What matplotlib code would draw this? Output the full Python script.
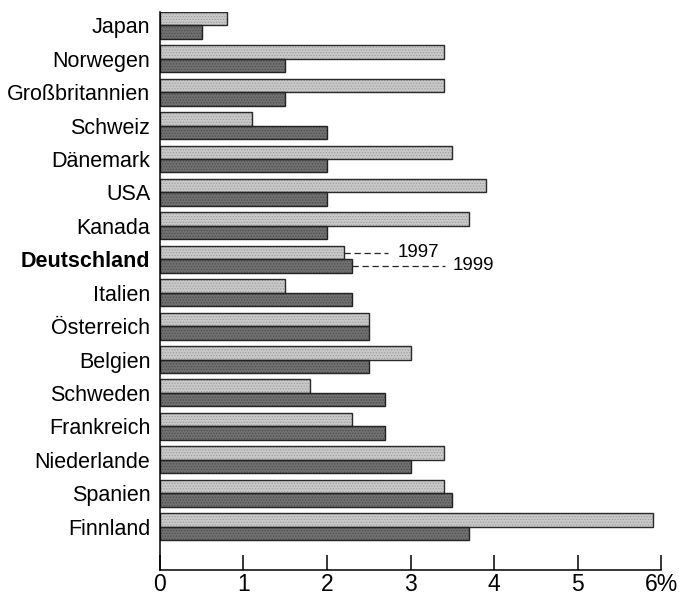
import matplotlib.pyplot as plt
import numpy as np

plt.rcParams['font.family'] = ['Liberation Sans', 'DejaVu Sans']
plt.rcParams['hatch.linewidth'] = 0.5

# Länder von oben nach unten
laender = ['Japan', 'Norwegen', 'Großbritannien', 'Schweiz', 'Dänemark', 'USA',
           'Kanada', 'Deutschland', 'Italien', 'Österreich', 'Belgien',
           'Schweden', 'Frankreich', 'Niederlande', 'Spanien', 'Finnland']
werte_1997 = [0.8, 3.4, 3.4, 1.1, 3.5, 3.9, 3.7, 2.2, 1.5, 2.5, 3.0, 1.8, 2.3, 3.4, 3.4, 5.9]
werte_1999 = [0.5, 1.5, 1.5, 2.0, 2.0, 2.0, 2.0, 2.3, 2.3, 2.5, 2.5, 2.7, 2.7, 3.0, 3.5, 3.7]
x_ticks = [0, 1, 2, 3, 4, 5, 6]
x_labels = ['0', '1', '2', '3', '4', '5', '6%']

fig = plt.figure(figsize=(6.79, 5.95), dpi=100)
ax = fig.add_axes([0.2356, 0.042, 0.738, 0.938])

y = np.arange(len(laender))
h = 0.403

# gerasterte Füllung, danach die Umrisse
ax.barh(y - h / 2, werte_1997, height=h, color='#c8c8c8', edgecolor='#9c9c9c',
        linewidth=0, hatch='......')
ax.barh(y + h / 2, werte_1999, height=h, color='#707070', edgecolor='#4a4a4a',
        linewidth=0, hatch='......')
ax.barh(y - h / 2, werte_1997, height=h, fill=False, edgecolor='#2a2a2a', linewidth=1.0)
ax.barh(y + h / 2, werte_1999, height=h, fill=False, edgecolor='#222222', linewidth=1.0)

ax.set_xlim(0, 6)
ax.set_ylim(16.3, -h)
ax.set_yticks(y)
ax.set_yticklabels(laender, fontsize=15.5)
for lbl in ax.get_yticklabels():
    if lbl.get_text() == 'Deutschland':
        lbl.set_fontweight('bold')
ax.tick_params(axis='y', length=0, pad=7)

ax.set_xticks(x_ticks)
ax.set_xticklabels(x_labels, fontsize=16.5)
ax.tick_params(axis='x', direction='in', length=11, width=1.1, pad=2)

for side in ['top', 'right']:
    ax.spines[side].set_visible(False)
for side in ['left', 'bottom']:
    ax.spines[side].set_linewidth(1.1)

# Legende direkt an den Balken für Deutschland
i = laender.index('Deutschland')
ax.plot([werte_1997[i], 2.73], [i - h / 2, i - h / 2], ls=(0, (5, 3)), color='#222', lw=0.9)
ax.text(2.84, i - h / 2, '1997', va='center', ha='left', fontsize=13.5)
ax.plot([werte_1999[i], 3.41], [i + h / 2, i + h / 2], ls=(0, (5, 3)), color='#222', lw=0.9)
ax.text(3.5, i + h / 2, '1999', va='center', ha='left', fontsize=13.5)

fig.savefig('out.png', dpi=100)
